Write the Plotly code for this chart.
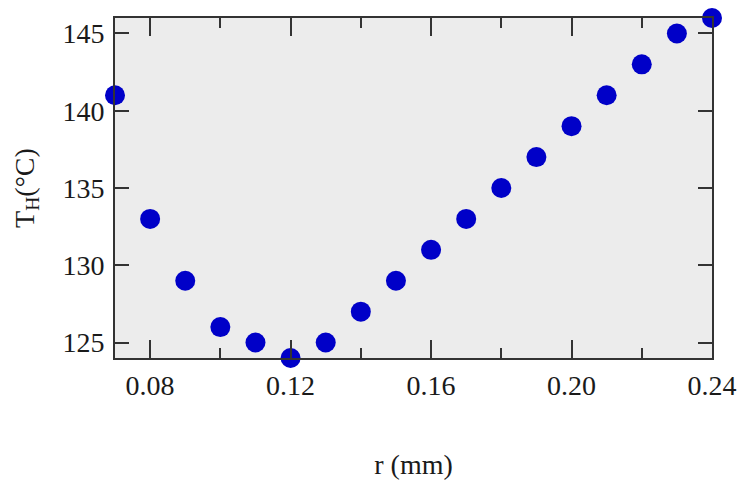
import plotly.graph_objects as go

r_mm = [0.07, 0.08, 0.09, 0.10, 0.11, 0.12, 0.13, 0.14, 0.15, 0.16,
        0.17, 0.18, 0.19, 0.20, 0.21, 0.22, 0.23, 0.24]
t_h = [141, 133, 129, 126, 125, 124, 125, 127, 129, 131,
       133, 135, 137, 139, 141, 143, 145, 146]
x_ticks = [0.08, 0.12, 0.16, 0.20, 0.24]
x_tick_labels = ["0.08", "0.12", "0.16", "0.20", "0.24"]
y_ticks = [125, 130, 135, 140, 145]

FONT = "Liberation Serif, Times New Roman, serif"

fig = go.Figure(go.Scatter(
    x=r_mm, y=t_h, mode="markers",
    marker=dict(size=20, color="#0000c8", line=dict(width=0)),
    cliponaxis=False,
))

axis_common = dict(
    showgrid=False, zeroline=False, showline=True, linecolor="#333333",
    linewidth=2, mirror="ticks", ticks="inside", tickcolor="#333333",
    tickwidth=2, tickfont=dict(family=FONT, size=28, color="#1a1a1a"),
    automargin=False,
)

fig.update_layout(
    width=740, height=482,
    margin=dict(l=115, r=28, t=18, b=124),
    paper_bgcolor="white", plot_bgcolor="#ececec",
    showlegend=False,
    xaxis=dict(
        range=[0.07, 0.24], tickvals=x_ticks, ticktext=x_tick_labels,
        ticklen=18, ticklabelstandoff=1,
        minor=dict(dtick=0.02, tick0=0.0, ticks="inside", ticklen=10,
                   tickwidth=2, tickcolor="#333333"),
        title=dict(text="r (mm)", font=dict(family=FONT, size=28, color="#1a1a1a"),
                   standoff=55),
        **axis_common,
    ),
    yaxis=dict(
        range=[124, 146], tickvals=y_ticks, ticklen=14, ticklabelstandoff=3,
        title=dict(text="T<sub>H</sub>(°C)", font=dict(family=FONT, size=28, color="#1a1a1a"),
                   standoff=20),
        **axis_common,
    ),
)

fig.write_html(
    "out.html",
    config={"displayModeBar": False},
    post_script="document.body.style.margin='0';document.body.style.overflow='hidden';",
)
